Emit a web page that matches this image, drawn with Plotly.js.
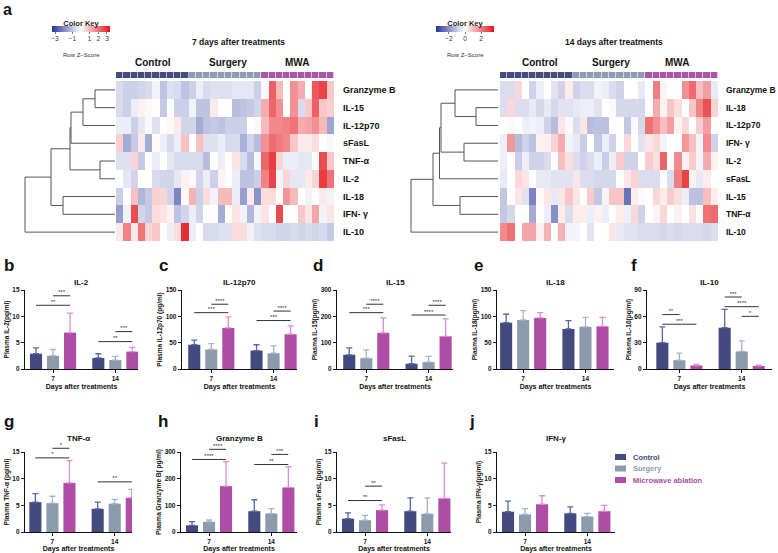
<!DOCTYPE html>
<html><head><meta charset="utf-8">
<script src="https://cdn.plot.ly/plotly-3.0.1.min.js"></script>
<style>body{margin:0;background:#fff}#chart{width:778px;height:553px}</style>
</head><body><div id="chart"></div>
<script>
const W = 778, H = 553;
const FONT = 'Liberation Sans, Arial, sans-serif';

// ---------- heatmap data ----------
const rows7 = ['Granzyme B','IL-15','IL-12p70','sFasL','TNF-α','IL-2','IL-18','IFN- γ','IL-10'];
const rows14 = ['Granzyme B','IL-18','IL-12p70','IFN- γ','IL-2','sFasL','IL-15','TNF-α','IL-10'];
const groupsHeat = ['Control','Surgery','MWA'];
const columnGroup = [0,0,0,0,0,0,0,0,0,0, 1,1,1,1,1,1,1,1,1,1, 2,2,2,2,2,2,2,2,2,2];

const heat7 = [
 [-0.6,-0.8,-0.8,-0.7,-0.6,-0.2,-1.0,-0.5,-0.6,-1.0, -0.8,-0.3,-0.6,-0.5,-0.5,-0.5,-0.4,-0.4,-0.4,-0.8, -0.1,2.3,1.0,0,1.6,1.2,0,2.4,2.7,0.8],
 [-0.6,-0.8,-0.3,0.2,0.1,0,-0.9,0,-0.8,-0.8, -0.2,-1.0,-1.0,0.3,0,0,-1.1,-1.0,-0.9,-0.7, 1.2,2.2,1.6,0,1.6,-0.6,0.8,2.3,0.8,0.7],
 [-0.3,-0.3,-0.8,-0.4,-0.1,-0.5,0,0.1,0.3,-0.7, -0.7,-1.4,-1.0,-0.9,-1.0,-0.8,-0.8,-0.8,0,0.1, 1.0,1.7,1.7,1.8,2.0,1.2,1.3,1.6,1.0,-1.5],
 [0.7,-1.4,-0.9,0.3,-1.4,0.1,-0.3,-0.6,-0.3,0.9, 0,0.9,-0.5,-0.5,-0.3,-0.6,-0.6,-1.3,-0.7,-1.1, 1.6,2.1,1.9,1.7,0.8,0.3,0.3,0.5,0,-0.1],
 [-0.5,-0.5,0.6,-0.9,0,-0.3,0,-0.4,-0.6,-0.6, -0.6,-0.6,-1.1,0,-0.3,0,0.4,-0.6,-1.1,-0.1, 2.2,2.8,0.6,-0.3,-0.3,-0.4,-0.4,0,2.6,0.8],
 [0,-0.4,-0.7,0,0,-0.6,-0.7,-0.7,-0.4,0.2, 0.1,-0.7,-0.3,-0.8,0.2,0,-0.3,-1.0,-1.0,-0.8, 1.8,2.7,-0.2,0.6,-0.4,-0.4,0.3,0.6,2.8,2.0],
 [-0.8,0,0.9,-1.2,-0.9,0.7,0.6,-0.7,-2.0,0.1, 1.1,-0.8,0.5,-0.2,1.0,1.0,-0.3,-1.6,0.3,-1.8, 0.5,0.5,0,1.5,1.0,0,-0.2,0,0.3,-0.2],
 [-1.6,-0.2,2.6,-0.7,-0.9,0.5,0.4,0.2,-1.0,-0.7, -0.3,-0.7,0,0,-1.4,0,0.4,-0.2,-1.2,-0.2, 0.4,0,2.6,0,0,0.8,0.4,1.3,-0.2,0.4],
 [0.3,1.8,0.3,2.0,0.6,0.8,0,-0.3,0.5,3.0, -0.3,0,-0.6,-0.6,-0.5,-0.5,0.5,0.5,-0.2,-0.5, -0.6,-0.6,-0.7,-0.7,-0.6,-0.7,-0.6,-0.7,-0.6,-0.9]
];
const heat14 = [
 [-0.6,-0.6,0.6,0,-0.8,-0.3,0,-0.5,-0.8,0.3, -0.8,-0.6,-0.6,-0.2,-0.3,-0.6,-0.8,0,0,-0.4, 0,2.0,0.2,0,0,1.7,2.3,1.0,1.5,-0.4],
 [-0.6,0.6,-0.6,-0.6,-0.4,-0.7,-0.4,-0.7,-0.5,-0.5, -0.4,-0.3,-0.3,-0.5,0,0.1,-0.7,-0.7,-0.7,-0.7, 0,1.3,0.2,0.9,0.5,0,0.9,1.9,2.7,0.7],
 [0,0.1,0,-0.3,-0.2,-0.3,-0.8,-1.2,0.4,-0.1, -0.6,0.4,-1.2,-1.1,-1.1,0,0,-1.0,-0.1,-0.7, 2.2,1.7,1.0,1.5,0.2,0.6,0,0.8,1.5,0],
 [-0.3,1.6,-1.2,-0.8,-1.1,0.2,0.2,0.7,1.3,-0.2, -0.4,-0.9,0,-1.0,-0.3,-0.8,0,0.6,0,-0.5, 0.4,0.6,-0.2,0,0,1.6,1.0,-0.2,1.8,-0.8],
 [-0.3,0,-0.9,-0.3,-0.8,-0.8,-0.6,0,1.0,0.5, -0.6,-0.8,-0.6,-0.3,-0.9,-0.3,0.8,-0.8,-0.8,0, 0.8,0.5,2.4,0,1.8,0.2,0.8,-0.2,1.3,0.2],
 [-0.4,0,0.6,0.4,0,-0.4,-0.4,-0.5,-0.5,-0.5, 0.4,-0.6,-0.6,-0.7,-0.7,-0.7,0,0.4,0.7,-0.6, -0.6,-0.6,0,-0.6,2.0,2.9,0.2,-0.4,0.3,0],
 [-1.0,0,0.4,-0.5,-2.2,0.1,0.4,-0.4,0.4,0.9, 0.4,0,0.8,-1.0,0.2,0.9,0.9,-2.5,0.3,0.1, 0,0.6,0.3,0.8,0.5,-0.3,-1.1,-1.1,1.0,0.3],
 [-1.0,-0.7,0,0,-1.5,0,-0.3,-2.0,0.3,-0.6, 0.3,0.3,-0.3,0.2,-0.3,0,0.3,-0.3,0.6,-0.8, 0,0.2,0.6,0,0.2,0,0.5,0,2.2,2.3],
 [1.8,2.2,0,1.4,1.4,0.2,1.2,0,1.2,-0.2, -0.2,0,-0.5,0,0,0.4,-0.4,-0.5,-0.5,-0.6, -0.6,-0.6,-0.7,-0.6,-0.7,-0.6,-0.6,-0.6,-0.7,-0.6]
];

// dendrograms (R hclust style: negative = leaf, positive = earlier merge)
const merge7A = [-5,-1,-3,3,4,-7,5,-9];
const merge7B = [-6,-2,2,-4,1,-8,6,7];
const merge7H = [15,20,32,44,45,52,64,90];
const merge14A = [-2,-4,-7,-1,4,-6,6,-9];
const merge14B = [-3,-5,-8,1,2,5,3,7];
const merge14H = [22,34,38,43,57,58.5,65,87];

// ---------- bar data ----------
const days = ['7','14'];
const barGroups = ['Control','Surgery','Microwave ablation'];
const panelLetters = ['b','c','d','e','f','g','h','i','j'];
const panelTitles = ['IL-2','IL-12p70','IL-15','IL-18','IL-10','TNF-α','Granzyme B','sFasL','IFN-γ'];
const yTitles = ['Plasma IL-2(pg/ml)','Plasma IL-12p70 (pg/ml)','Plasma IL-15(pg/ml)','Plasma IL-18(pg/ml)','Plasma IL-10(pg/ml)','Plasma TNF-α (pg/ml)','Plasma Granzyme B( pg/ml)','Plasma sFasL (pg/ml)','Plasma IFN-γ(pg/ml)'];
const yMax = [15,150,300,150,90,15,300,15,15];
const yStep = [5,50,100,50,30,5,100,5,5];

// mean [group][day], sd [group][day]
const il2Mean = [[2.9,2.1],[2.5,1.7],[6.9,3.3]];       const il2Sd = [[1.1,0.8],[1.2,0.7],[3.7,0.8]];
const il12Mean = [[46,35],[37,30],[78,66]];            const il12Sd = [[9,11],[11,14],[21,16]];
const il15Mean = [[54,20],[41,26],[137,124]];          const il15Sd = [[26,29],[32,22],[57,66]];
const il18Mean = [[88,76],[93,80],[97,81]];            const il18Sd = [[16,16],[18,18],[10,17]];
const il10Mean = [[30,47],[10,20],[4,3.5]];            const il10Sd = [[18,21],[8,12],[1.2,1]];
const tnfMean = [[5.6,4.35],[5.4,5.3],[9.2,6.4]];      const tnfSd = [[1.6,1.25],[1.3,0.8],[4.2,1.6]];
const gzbMean = [[25,78],[38,69],[172,167]];           const gzbSd = [[14,43],[7,19],[92,77]];
const fasMean = [[2.5,3.9],[2.2,3.4],[4.1,6.3]];       const fasSd = [[1.1,2.5],[0.9,3.0],[1.0,6.6]];
const ifnMean = [[3.8,3.5],[3.3,2.9],[5.2,3.9]];       const ifnSd = [[2.0,1.2],[1.1,0.6],[1.6,1.1]];

// significance: [day index, group a, group b, height, label]
const il2Sig = [[0,0,2,12.1,'**'],[0,1,2,13.9,'***'],[1,0,2,5.2,'**'],[1,1,2,7.1,'***']];
const il12Sig = [[0,0,2,107,'***'],[0,1,2,123,'****'],[1,0,2,92,'***'],[1,1,2,110,'****']];
const il15Sig = [[0,0,2,214,'***'],[0,1,2,246,'****'],[1,0,2,205,'****'],[1,1,2,242,'****']];
const il18Sig = [];
const il10Sig = [[0,0,1,62,'**'],[0,0,2,51,'***'],[1,0,1,82,'***'],[1,0,2,71,'****'],[1,1,2,60,'*']];
const tnfSig = [[0,0,2,13.9,'*'],[0,1,2,15.7,'*'],[1,0,2,9.4,'**']];
const gzbSig = [[0,0,2,272,'****'],[0,1,2,310,'****'],[1,0,2,253,'**'],[1,1,2,291,'***']];
const fasSig = [[0,0,2,5.9,'**'],[0,1,2,8.6,'**']];
const ifnSig = [];

const means = [il2Mean,il12Mean,il15Mean,il18Mean,il10Mean,tnfMean,gzbMean,fasMean,ifnMean];
const sds = [il2Sd,il12Sd,il15Sd,il18Sd,il10Sd,tnfSd,gzbSd,fasSd,ifnSd];
const sigs = [il2Sig,il12Sig,il15Sig,il18Sig,il10Sig,tnfSig,gzbSig,fasSig,ifnSig];

// ---------- layout geometry (pixels) ----------
const panelX0 = [25,182,337,497,647, 25,181,337,497];
const panelX1 = [138,297,453,614,772, 132,297,451,615];
const panelLeft = [-0.45,-0.47,-0.47,-0.42,-0.52, -0.44,-0.45,-0.45,-0.45];
const rowTop = [290,290,290,290,290, 452,452,452,452,452];
const rowBot = [369,369,369,369,369, 532,532,532,532,532];
const titleY = [282,282,282,282,282, 439,439,439,439];
const letterPos = [[9,265],[163,265],[318,265],[478,265],[634,265],[9,421],[163,421],[316,421],[472,421]];

const barFill = ['#424A80','#8C9AAE','#AE4CA6'];
const barErr = ['#5866A6','#A6B2C3','#DE8AD4'];
const stripColors = ['#474C80','#8F9BB3','#A756AA'];

const fx = p => p / W;
const fy = p => 1 - p / H;
const dom = (a, b) => [fx(a), fx(b)];
const domY = (top, bot) => [fy(bot), fy(top)];

const blueRed = [[0,'#26359A'],[0.5,'#FFFFFF'],[1,'#E3171C']];

function dendro(A, B, Hs) {
  const pos = [], hh = [], xs = [], ys = [];
  const get = k => k < 0 ? {p: -k - 1, h: 0} : {p: pos[k - 1], h: hh[k - 1]};
  for (let i = 0; i < A.length; i++) {
    const a = get(A[i]), b = get(B[i]), h = Hs[i];
    xs.push(a.h, h, h, b.h, null);
    ys.push(a.p, a.p, b.p, b.p, null);
    pos.push((a.p + b.p) / 2); hh.push(h);
  }
  return {xs, ys};
}

const traces = [];
const layout = {
  width: W, height: H, margin: {l:0, r:0, t:0, b:0},
  paper_bgcolor: '#fff', plot_bgcolor: 'rgba(0,0,0,0)',
  font: {family: FONT, color: '#111'},
  showlegend: false, barmode: 'group', bargap: 0.18, bargroupgap: 0.29,
  annotations: [], shapes: []
};
function note(xpx, ypx, text, size, opts) {
  layout.annotations.push(Object.assign({
    xref:'paper', yref:'paper', x: fx(xpx), y: fy(ypx), xanchor:'center', yanchor:'middle',
    text: text, showarrow:false, font:{size: size, family: FONT, color:'#111'}
  }, opts || {}));
}
const blankAxis = (domain, range, extra) => Object.assign({domain, range, showgrid:false, zeroline:false, showticklabels:false, ticks:'', showline:false, fixedrange:true}, extra || {});

function addHeatmap(side, rows, z, merges, zlim, keyTicks, cfg) {
  const n = side * 3;
  const ax = i => (n + i === 1 ? '' : String(n + i));
  traces.push({
    type: 'heatmap', z: z, xaxis: 'x' + ax(1), yaxis: 'y' + ax(1),
    colorscale: blueRed, zmin: -zlim, zmax: zlim, hoverinfo: 'skip',
    colorbar: {
      orientation: 'h', x: fx(cfg.keyX), xanchor: 'center', y: fy(cfg.keyY), yanchor: 'top',
      len: 58, lenmode: 'pixels', thickness: 6, thicknessmode: 'pixels',
      xpad: 0, ypad: 0, outlinewidth: 0,
      title: {text: '<b>Color Key</b>', side: 'top', font: {size: 7.5, family: FONT, color:'#222'}},
      tickvals: keyTicks, ticktext: keyTicks.map(v => v < 0 ? '−' + Math.abs(v) : String(v)),
      ticks: 'outside', ticklen: 2, tickwidth: 0.8, tickcolor: '#555',
      tickfont: {size: 6.5, family: FONT, color: '#333'}
    }
  });
  layout['xaxis' + ax(1)] = blankAxis(dom(cfg.hx0, cfg.hx1), [-0.5, 29.5], {anchor: 'y' + ax(1)});
  layout['yaxis' + ax(1)] = blankAxis(domY(81, 241), [8.5, -0.5], {
    anchor: 'x' + ax(1), side: 'right', showticklabels: true,
    tickvals: rows.map((r, i) => i), ticktext: rows.map(r => '<b>' + r + '</b>'),
    tickfont: {size: cfg.labelSize, family: FONT, color: '#111'}, ticklabelstandoff: cfg.standoff
  });
  traces.push({
    type: 'heatmap', z: [columnGroup], xaxis: 'x' + ax(2), yaxis: 'y' + ax(2),
    colorscale: [[0, stripColors[0]],[0.333, stripColors[0]],[0.334, stripColors[1]],[0.666, stripColors[1]],[0.667, stripColors[2]],[1, stripColors[2]]],
    zmin: 0, zmax: 2, showscale: false, xgap: 0.6, hoverinfo: 'skip'
  });
  layout['xaxis' + ax(2)] = blankAxis(dom(cfg.hx0, cfg.hx1), [-0.5, 29.5], {anchor: 'y' + ax(2)});
  layout['yaxis' + ax(2)] = blankAxis(domY(72, 78), [-0.5, 0.5], {anchor: 'x' + ax(2)});
  const d = dendro(merges[0], merges[1], merges[2]);
  traces.push({type: 'scatter', mode: 'lines', x: d.xs, y: d.ys, xaxis: 'x' + ax(3), yaxis: 'y' + ax(3),
    line: {color: '#555', width: 1}, hoverinfo: 'skip', cliponaxis: false});
  layout['xaxis' + ax(3)] = blankAxis(dom(cfg.dx0, cfg.dx1), [cfg.dmax, 0], {anchor: 'y' + ax(3)});
  layout['yaxis' + ax(3)] = blankAxis(domY(81, 241), [8.5, -0.5], {anchor: 'x' + ax(3)});

  note(cfg.titleX, 42, '<b>' + cfg.title + '</b>', 8.5);
  groupsHeat.forEach((g, i) => note(cfg.groupX[i], 62, '<b>' + g + '</b>', 10));
  note(cfg.keyX, 55, 'Row Z−Score', 6, {font:{size:6, family:FONT, color:'#333'}});
}

addHeatmap(0, rows7, heat7, [merge7A, merge7B, merge7H], 3.35, [-3,-1,1,2,3],
  {hx0:116, hx1:334, dx0:23, dx1:115, dmax:92, keyX:81, keyY:17, title:'7 days after treatments', titleX:238, groupX:[153,228,297], labelSize:9, standoff:8});
addHeatmap(1, rows14, heat14, [merge14A, merge14B, merge14H], 3.6, [-2,0,2],
  {hx0:500, hx1:718, dx0:408, dx1:498, dmax:90, keyX:465, keyY:17, title:'14 days after treatments', titleX:614, groupX:[540,611,677], labelSize:8.5, standoff:7});

note(8, 9, '<b>a</b>', 16);

// ---------- bar panels ----------
const slot = (1 - layout.bargap) / 3;
const EXTRA = 24; // px of headroom for significance brackets above each plot
for (let k = 0; k < 9; k++) {
  const n = 7 + k;
  const xs = 'x' + n, ys = 'y' + n, ysSig = 'y' + (n + 9);
  const pxPerUnit = 62.3;
  const left = panelLeft[k];
  const right = left + (panelX1[k] - panelX0[k]) / pxPerUnit;
  for (let g = 0; g < 3; g++) {
    traces.push({
      type: 'bar', x: [0, 1], y: means[k][g], xaxis: xs, yaxis: ys, name: barGroups[g],
      marker: {color: barFill[g], line: {width: 0}},
      error_y: {type: 'data', symmetric: false, array: sds[k][g], arrayminus: [0, 0], color: barErr[g], thickness: 1.3, width: 3},
      hoverinfo: 'skip'
    });
  }
  const lx = [], ly = [], tx = [], ty = [], tt = [];
  sigs[k].forEach(s => {
    const xa = s[0] + (s[1] - 1) * slot, xb = s[0] + (s[2] - 1) * slot;
    lx.push(xa, xb, null); ly.push(s[3], s[3], null);
    tx.push((xa + xb) / 2); ty.push(s[3]); tt.push(s[4]);
  });
  if (lx.length) {
    traces.push({type:'scatter', mode:'lines', x: lx, y: ly, xaxis: xs, yaxis: ysSig, line:{color:'#333', width:1}, cliponaxis:false, hoverinfo:'skip'});
    traces.push({type:'scatter', mode:'text', x: tx, y: ty, text: tt, textposition:'top center', xaxis: xs, yaxis: ysSig, textfont:{size:6, family:FONT, color:'#333'}, cliponaxis:false, hoverinfo:'skip'});
  }
  layout['xaxis' + n] = {
    domain: dom(panelX0[k], panelX1[k]), range: [left, right], anchor: ys,
    showgrid:false, zeroline:false, showline:true, linecolor:'#111', linewidth:1.2,
    tickvals:[0,1], ticktext: days, ticks:'outside', ticklen:3, tickwidth:1, tickcolor:'#111',
    tickfont:{size:6.5, family:FONT, color:'#111', weight:'bold'},
    title:{text:'<b>Days after treatments</b>', font:{size:7, family:FONT, color:'#111'}, standoff:3},
    fixedrange:true
  };
  layout['yaxis' + n] = {
    domain: domY(rowTop[k], rowBot[k]), range: [0, yMax[k]], anchor: xs,
    showgrid:false, zeroline:false, showline:true, linecolor:'#111', linewidth:1.2,
    tick0:0, dtick: yStep[k], ticks:'outside', ticklen:3, tickwidth:1, tickcolor:'#111',
    tickfont:{size:6.5, family:FONT, color:'#111', weight:'bold'},
    title:{text:'<b>' + yTitles[k] + '</b>', font:{size:6.5, family:FONT, color:'#111'}, standoff:2},
    fixedrange:true
  };
  // taller invisible axis with identical scale, so brackets above the top tick are not clipped
  const hpx = rowBot[k] - rowTop[k];
  layout['yaxis' + (n + 9)] = blankAxis(domY(rowTop[k] - EXTRA, rowBot[k]), [0, yMax[k] * (hpx + EXTRA) / hpx], {anchor: xs});
  note((panelX0[k] + panelX1[k]) / 2, titleY[k], '<b>' + panelTitles[k] + '</b>', 8);
  note(letterPos[k][0], letterPos[k][1], '<b>' + panelLetters[k] + '</b>', 17);
}

// legend (custom)
barGroups.forEach((g, i) => {
  const yc = 457 + i * 11.5;
  layout.shapes.push({type:'rect', xref:'paper', yref:'paper', x0: fx(615), x1: fx(626), y0: fy(yc + 3), y1: fy(yc - 3), fillcolor: barFill[i], line:{width:0}});
  note(631, yc, '<b>' + g + '</b>', 7.5, {xanchor:'left', font:{size:7.5, family:FONT, color: barFill[i]}});
});

Plotly.newPlot('chart', traces, layout, {staticPlot: true, displayModeBar: false});
</script>
</body></html>
